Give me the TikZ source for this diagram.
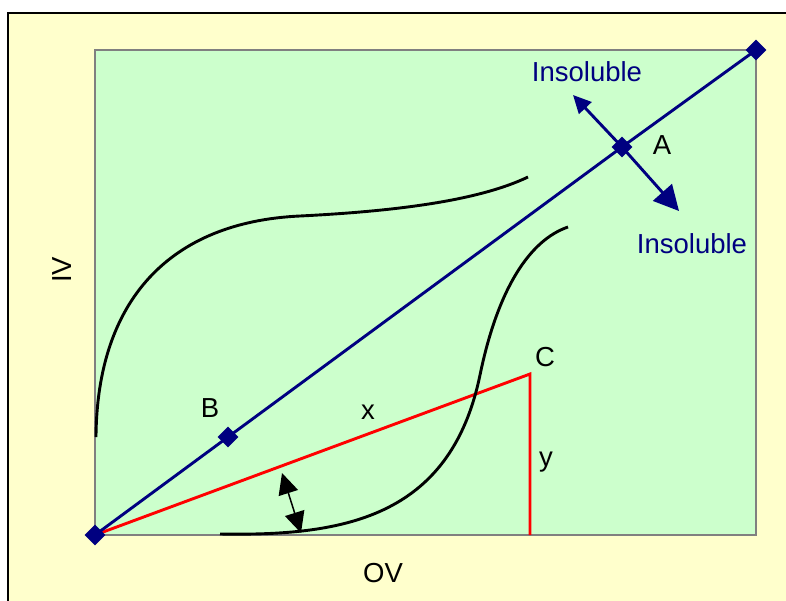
\documentclass[tikz,border=0pt]{standalone}
\usepackage{fontspec}
\setmainfont{Liberation Sans}
\usetikzlibrary{arrows.meta,shapes.geometric,positioning}
\definecolor{navy}{rgb}{0,0,0.5}
\definecolor{paleyellow}{RGB}{255,255,204}
\definecolor{palegreen}{RGB}{204,255,204}
\definecolor{framegray}{RGB}{128,128,128}

\begin{document}
\begin{tikzpicture}[x=1pt,y=-1pt,
    lbl/.style={font=\fontsize{27.5}{30}\selectfont, inner sep=0pt},
    dmd/.style={diamond, fill=navy, inner sep=0pt, minimum size=21pt},
    bline/.style={navy, line width=2.9pt},
    rline/.style={red, line width=2.9pt},
    curve/.style={black, line width=2.9pt}]
            \useasboundingbox (0,0) rectangle (786,600);
            \clip (0,0) rectangle (786,600);
            %Background
            \fill[white] (0,0) rectangle (786,600);
            \filldraw[fill=paleyellow, draw=black, line width=1.2pt] (8,13) rectangle (800,615);
            \filldraw[fill=palegreen, draw=framegray, line width=1.6pt] (95,50) rectangle (756,535);
            %Points
            \coordinate (c) at (530,374);
            \coordinate (foot) at (530,535);
            \coordinate (up) at (573,95);
            \coordinate (down) at (679,211);
            \coordinate (angtop) at (282,473);
            \coordinate (angbot) at (301,533);
            %Red triangle
            \draw[rline] (95,535) -- (c) -- (foot);
            %Curves
            \draw[curve] (96,437) .. controls (97,300) and (170,222) .. (300,216)
                .. controls (400,211) and (480,200) .. (528,177);
            \draw[curve] (220,534) .. controls (340,536) and (450,520) .. (480,375)
                .. controls (498,288) and (530,240) .. (568,227);
            %Blue line and nodes
            \node[dmd] (o) at (95,535) {};
            \node[dmd] (b) at (228,437) {};
            \node[dmd] (a) at (622,147) {};
            \node[dmd] (e) at (756,50) {};
            \draw[bline] (o.center) -- (b.center) -- (a.center) -- (e.center);
            \draw[bline, -{Triangle[length=18pt,width=17pt]}] (a.center) -- (up);
            \draw[bline, -{Triangle[length=25pt,width=25pt]}] (a.center) -- (down);
            %Angle arrow
            \draw[black, line width=1.5pt, {Triangle[length=21pt,width=20pt]}-{Triangle[length=21pt,width=20pt]}] (angtop) -- (angbot);
            %Labels
            \node[lbl, navy] (ins1) at (587,72) {Insoluble};
            \node[lbl, navy] (ins2) at (692,244) {Insoluble};
            \node[lbl] (la) at (662,145) {A};
            \node[lbl] (lb) at (210,408) {B};
            \node[lbl] (lc) at (545,357) {C};
            \node[lbl] (lx) at (368,412) {x};
            \node[lbl] (ly) at (546,462) {y};
            \node[lbl] (ov) at (383,573) {OV};
            \node[lbl, rotate=90] (iv) at (62,270) {IV};
        \end{tikzpicture}
\end{document}
